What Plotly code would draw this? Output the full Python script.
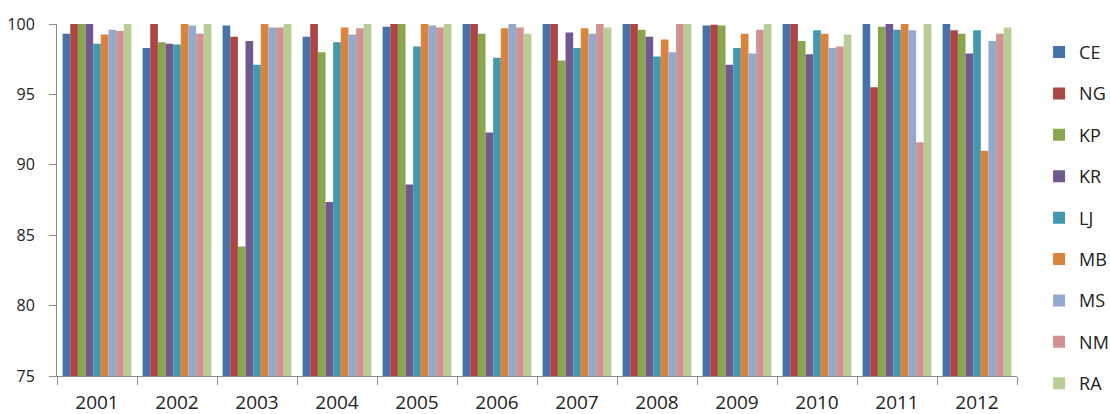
import plotly.graph_objects as go

years = ["2001", "2002", "2003", "2004", "2005", "2006", "2007", "2008", "2009", "2010", "2011", "2012"]
series_names = ["CE", "NG", "KP", "KR", "LJ", "MB", "MS", "NM", "RA"]
colors = ["#4572A7", "#AA4643", "#89A54E", "#71588F", "#4198AF", "#DB843D", "#93A9CF", "#D19392", "#B9CD96"]

CE = [99.3, 98.3, 99.9, 99.1, 99.8, 100, 100, 100, 99.9, 100, 100, 100]
NG = [100, 100, 99.1, 100, 100, 100, 100, 100, 99.95, 100, 95.5, 99.55]
KP = [100, 98.7, 84.2, 98.0, 100, 99.3, 97.4, 99.6, 99.9, 98.8, 99.8, 99.3]
KR = [100, 98.6, 98.8, 87.35, 88.6, 92.3, 99.4, 99.1, 97.1, 97.85, 100, 97.9]
LJ = [98.6, 98.55, 97.1, 98.7, 98.4, 97.6, 98.3, 97.7, 98.3, 99.55, 99.6, 99.55]
MB = [99.25, 100, 100, 99.75, 100, 99.7, 99.7, 98.9, 99.3, 99.3, 100, 91.0]
MS = [99.6, 99.9, 99.75, 99.25, 99.9, 100, 99.3, 98.0, 97.9, 98.3, 99.55, 98.8]
NM = [99.5, 99.3, 99.75, 99.7, 99.75, 99.75, 100, 100, 99.6, 98.4, 91.6, 99.3]
RA = [100, 100, 100, 100, 100, 99.3, 99.75, 100, 100, 99.25, 100, 99.75]

values = [CE, NG, KP, KR, LJ, MB, MS, NM, RA]

fig = go.Figure()
for name, vals, col in zip(series_names, values, colors):
    fig.add_trace(go.Bar(
        x=years, y=vals, name=name, marker_color=col,
        marker_line_width=0, legendgroup=name,
    ))

font_family = "Open Sans, Liberation Sans, Arial, sans-serif"
fig.update_layout(
    width=1110, height=414,
    margin=dict(l=57, r=93, t=24, b=38, autoexpand=False),
    paper_bgcolor="white", plot_bgcolor="white",
    barmode="group", bargap=0.14, bargroupgap=0,
    font=dict(family=font_family, size=16, color="#222222"),
    showlegend=True,
    legend=dict(
        x=1.023, xanchor="left", y=0.972, yanchor="top",
        font=dict(size=18, color="#222222"),
        tracegroupgap=15, itemwidth=30, maxheight=410,
        bgcolor="rgba(0,0,0,0)",
    ),
    xaxis=dict(
        showline=True, linecolor="#888888", linewidth=1,
        ticks="outside", tickson="boundaries", ticklen=8, tickcolor="#888888",
        showgrid=False, tickfont=dict(size=19), ticklabelstandoff=9,
    ),
    yaxis=dict(
        range=[75, 100], dtick=5, tick0=75,
        showline=True, linecolor="#888888", linewidth=1,
        ticks="outside", ticklen=7, tickcolor="#888888",
        showgrid=False, zeroline=False, tickfont=dict(size=16),
        ticklabelstandoff=11,
    ),
)

fig.write_html(
    "out.html",
    config={"displayModeBar": False},
    post_script="document.body.style.margin='0';document.body.style.overflow='hidden';",
)
